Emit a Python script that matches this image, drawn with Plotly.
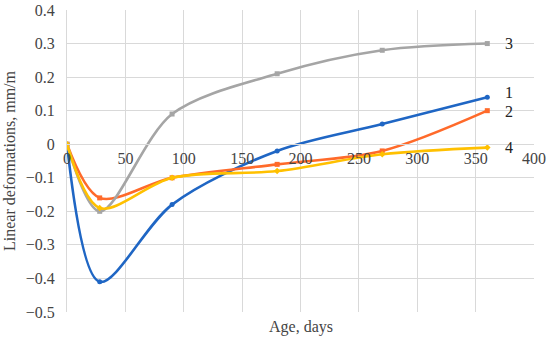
import plotly.graph_objects as go

days = [0, 28, 90, 180, 270, 360]
s1 = [0, -0.41, -0.18, -0.02, 0.06, 0.14]
s2 = [0, -0.16, -0.10, -0.06, -0.02, 0.10]
s3 = [0, -0.20, 0.09, 0.21, 0.28, 0.30]
s4 = [0, -0.19, -0.10, -0.08, -0.03, -0.01]
names = ["1", "2", "3", "4"]
label_y = [0.155, 0.097, 0.30, -0.01]
x_ticks = [0, 50, 100, 150, 200, 250, 300, 350, 400]
y_ticks = [0.4, 0.3, 0.2, 0.1, 0, -0.1, -0.2, -0.3, -0.4, -0.5]

series = [s1, s2, s3, s4]
colors = ["#1F66C4", "#FF6A2A", "#A5A5A5", "#FFC000"]
symbols = ["circle", "square", "square", "diamond"]

font = "Liberation Serif"
fig = go.Figure()
for vals, c, sym, n in zip(series, colors, symbols, names):
    fig.add_trace(go.Scatter(x=days, y=vals, mode="lines+markers", name=n,
                             line=dict(color=c, width=2.6, shape="spline", smoothing=0.9),
                             marker=dict(color=c, size=5, symbol=sym)))

for n, yv in zip(names, label_y):
    fig.add_annotation(x=379, y=yv, text=n, showarrow=False, xanchor="center",
                       font=dict(family=font, size=16, color="#222"))

def ylab(v):
    s = f"{v:g}"
    return s.replace("-", "\u2212")

ymin, ymax = -0.5, 0.4
fig.update_layout(
    width=550, height=338,
    margin=dict(l=67, r=16, t=10, b=26),
    plot_bgcolor="white", paper_bgcolor="white",
    showlegend=False,
    font=dict(family=font, size=14, color="#444"),
    xaxis=dict(range=[0, 400], tickvals=x_ticks, ticktext=[str(v) for v in x_ticks],
               showgrid=True, gridcolor="#D9D9D9", gridwidth=1, automargin=False,
               zeroline=False, showline=True, linecolor="#D9D9D9",
               anchor="free", position=(0 - ymin) / (ymax - ymin),
               ticklabeloverflow="allow",
               ticks="", tickfont=dict(family=font, size=16, color="#444")),
    yaxis=dict(range=[ymin, ymax], tickvals=y_ticks, ticktext=[ylab(v) for v in y_ticks],
               showgrid=True, gridcolor="#D9D9D9", gridwidth=1, automargin=False,
               zeroline=False, showline=True, linecolor="#D9D9D9", mirror=False,
               ticks="", ticklabelstandoff=8, ticklabeloverflow="allow",
               tickfont=dict(family=font, size=16, color="#444"),
               title=dict(text="Linear deformations, mm/m", standoff=6,
                          font=dict(family=font, size=16, color="#444"))),
)
fig.add_annotation(xref="paper", yref="paper", x=0.5, y=-0.012, yanchor="top",
                   text="Age, days", showarrow=False,
                   font=dict(family=font, size=16, color="#444"))
fig.write_html("out.html", config={"displayModeBar": False},
               post_script="document.body.style.margin='0';document.body.style.padding='0';")
